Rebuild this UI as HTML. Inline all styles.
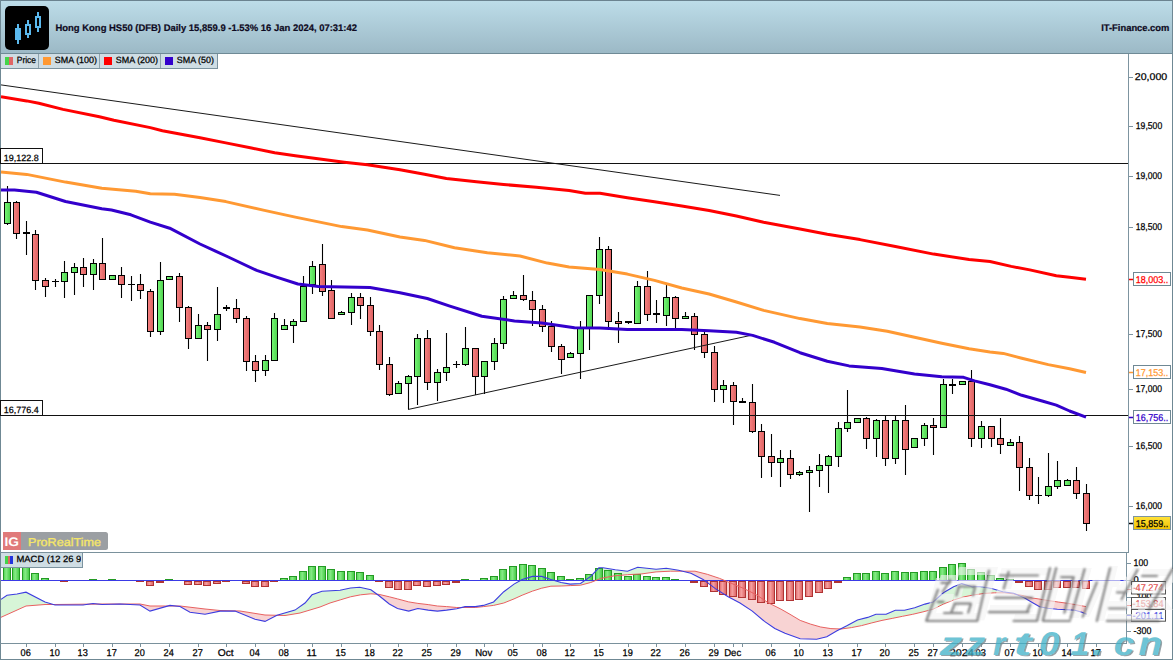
<!DOCTYPE html>
<html><head><meta charset="utf-8"><title>HK50 chart</title>
<style>
html,body{margin:0;padding:0;background:#fff;width:1173px;height:660px;overflow:hidden}
svg{display:block;font-family:"Liberation Sans", sans-serif;text-rendering:geometricPrecision}
.tk{stroke:#000;stroke-width:0.25px}
</style></head><body>
<svg width="1173" height="660" viewBox="0 0 1173 660">
<defs>
<linearGradient id="hdr" x1="0" y1="0" x2="0" y2="1">
<stop offset="0" stop-color="#bddde9"/><stop offset="1" stop-color="#9cb9c6"/></linearGradient>
<linearGradient id="gG" x1="0" y1="0" x2="1" y2="0">
<stop offset="0" stop-color="#78f878"/><stop offset="1" stop-color="#4ed24e"/></linearGradient>
<linearGradient id="gR" x1="0" y1="0" x2="1" y2="0">
<stop offset="0" stop-color="#f78282"/><stop offset="1" stop-color="#dc6060"/></linearGradient>
<linearGradient id="hG" x1="0" y1="0" x2="1" y2="0">
<stop offset="0" stop-color="#4fd64f"/><stop offset="0.4" stop-color="#86ea86"/><stop offset="1" stop-color="#3fc83f"/></linearGradient>
<linearGradient id="hR" x1="0" y1="0" x2="1" y2="0">
<stop offset="0" stop-color="#e06868"/><stop offset="0.4" stop-color="#f5a0a0"/><stop offset="1" stop-color="#dc6060"/></linearGradient>
<linearGradient id="yel" x1="0" y1="0" x2="0" y2="1"><stop offset="0" stop-color="#ffe23a"/><stop offset="1" stop-color="#f2c200"/></linearGradient>
<filter id="wblur" x="-10%" y="-10%" width="120%" height="120%"><feGaussianBlur stdDeviation="0.8"/></filter>
<mask id="wmask" maskUnits="userSpaceOnUse" x="0" y="0" width="1173" height="660"><rect x="0" y="0" width="1173" height="660" fill="#fff"/><g id="wmpolys"></g><polygon points="936.0,578.0 945.0,578.0 934.2,621.0 925.2,621.0" fill="#000"/><polygon points="940.8,575.0 958.8,575.0 956.8,583.0 938.8,583.0" fill="#000"/><polygon points="940.0,594.0 954.0,594.0 952.1,601.6 938.1,601.6" fill="#000"/><polygon points="958.8,567.0 997.8,567.0 995.8,575.0 956.8,575.0" fill="#000"/><polygon points="989.8,567.0 997.8,567.0 984.8,619.0 976.8,619.0" fill="#000"/><polygon points="958.5,580.0 986.5,580.0 984.8,587.0 956.8,587.0" fill="#000"/><polygon points="956.8,587.0 963.8,587.0 957.2,613.0 950.2,613.0" fill="#000"/><polygon points="956.2,597.0 982.2,597.0 980.5,604.0 954.5,604.0" fill="#000"/><polygon points="973.8,587.0 980.8,587.0 974.2,613.0 967.2,613.0" fill="#000"/><polygon points="927.2,613.0 986.2,613.0 984.4,620.6 925.4,620.6" fill="#000"/><polygon points="1001.5,568.0 1057.5,568.0 1055.6,575.5 999.6,575.5" fill="#000"/><polygon points="1007.8,575.0 1014.8,575.0 1011.2,589.0 1004.2,589.0" fill="#000"/><polygon points="997.0,590.0 1052.0,590.0 1050.0,597.8 995.0,597.8" fill="#000"/><polygon points="990.2,605.0 1034.2,605.0 1032.5,612.2 988.5,612.2" fill="#000"/><polygon points="1050.1,568.0 1057.5,568.0 1044.5,620.0 1037.1,620.0" fill="#000"/><polygon points="1015.0,614.0 1046.0,614.0 1044.2,621.0 1013.2,621.0" fill="#000"/><polygon points="1056.0,568.0 1063.5,568.0 1050.2,621.0 1042.8,621.0" fill="#000"/><polygon points="1056.0,568.0 1091.5,568.0 1089.8,575.0 1054.2,575.0" fill="#000"/><polygon points="1073.8,575.0 1079.8,575.0 1070.2,613.0 1064.2,613.0" fill="#000"/><polygon points="1084.0,568.0 1091.5,568.0 1079.0,618.0 1071.5,618.0" fill="#000"/><polygon points="1092.5,580.0 1120.5,580.0 1118.8,587.0 1090.8,587.0" fill="#000"/><polygon points="1110.5,566.0 1118.0,566.0 1104.2,621.0 1096.8,621.0" fill="#000"/><polygon points="1095.8,587.0 1102.8,587.0 1089.2,617.0 1082.2,617.0" fill="#000"/><polygon points="1133.5,568.0 1141.5,568.0 1124.0,590.0 1116.0,590.0" fill="#000"/><polygon points="1117.2,585.0 1135.2,585.0 1133.4,592.5 1115.4,592.5" fill="#000"/><polygon points="1107.2,601.0 1131.2,601.0 1129.4,608.5 1105.4,608.5" fill="#000"/><polygon points="1143.2,569.0 1185.2,569.0 1183.5,576.0 1141.5,576.0" fill="#000"/><polygon points="1171.5,576.0 1179.5,576.0 1150.5,604.0 1142.5,604.0" fill="#000"/><polygon points="1150.0,590.0 1158.0,590.0 1173.0,610.0 1165.0,610.0" fill="#000"/><polygon points="1108.0,614.0 1162.0,614.0 1160.2,621.0 1106.2,621.0" fill="#000"/><polygon points="1141.0,598.0 1148.0,598.0 1142.2,621.0 1135.2,621.0" fill="#000"/><polygon points="1133.0,602.0 1163.0,602.0 1161.2,609.0 1131.2,609.0" fill="#000"/></mask>
<clipPath id="mainclip"><rect x="1" y="69" width="1127" height="483"/></clipPath>
<clipPath id="macdclip"><rect x="1" y="553" width="1125" height="90"/></clipPath>

<clipPath id="abv"><polygon points="1.0,553.0 1.0,617.3 26.0,606.0 45.0,604.5 55.0,604.5 100.0,604.0 140.0,604.0 150.0,606.0 180.0,606.0 205.0,609.0 220.0,610.5 240.0,611.0 265.0,615.0 285.0,615.5 300.0,613.0 320.0,607.0 330.0,603.0 340.2,599.9 350.5,596.8 360.7,594.8 370.9,593.8 379.1,594.4 389.3,596.8 397.5,598.9 408.7,601.9 417.9,603.4 428.2,604.6 437.4,606.0 446.6,606.6 456.8,607.5 465.0,607.5 475.3,607.5 483.4,606.6 493.6,605.4 503.8,603.0 514.0,598.9 522.2,595.2 532.5,591.1 541.7,588.2 550.9,586.2 561.1,586.0 570.2,585.6 580.5,585.2 590.7,582.5 600.9,578.4 613.2,576.0 627.5,574.7 641.8,573.9 656.1,571.9 670.5,571.2 682.7,571.2 695.0,571.2 707.3,574.3 719.6,578.4 731.8,583.5 744.1,588.6 756.4,594.8 768.7,603.0 780.9,609.1 790.0,614.3 800.2,620.4 810.5,624.1 820.7,627.0 830.9,628.6 841.1,629.0 851.4,627.6 861.6,625.6 871.8,622.9 882.0,620.4 892.2,618.4 902.5,616.3 912.7,614.3 922.9,611.9 933.1,609.2 943.4,604.1 953.6,600.0 963.8,596.9 974.0,594.9 984.3,593.4 994.5,592.8 1004.7,592.8 1013.6,593.9 1024.6,595.9 1032.7,598.0 1040.9,599.3 1049.1,600.7 1058.7,602.1 1068.2,603.4 1076.4,604.8 1086.0,606.6 1127.0,606.6 1127.0,553.0"/></clipPath>
<clipPath id="blw"><polygon points="1.0,643.0 1.0,617.3 26.0,606.0 45.0,604.5 55.0,604.5 100.0,604.0 140.0,604.0 150.0,606.0 180.0,606.0 205.0,609.0 220.0,610.5 240.0,611.0 265.0,615.0 285.0,615.5 300.0,613.0 320.0,607.0 330.0,603.0 340.2,599.9 350.5,596.8 360.7,594.8 370.9,593.8 379.1,594.4 389.3,596.8 397.5,598.9 408.7,601.9 417.9,603.4 428.2,604.6 437.4,606.0 446.6,606.6 456.8,607.5 465.0,607.5 475.3,607.5 483.4,606.6 493.6,605.4 503.8,603.0 514.0,598.9 522.2,595.2 532.5,591.1 541.7,588.2 550.9,586.2 561.1,586.0 570.2,585.6 580.5,585.2 590.7,582.5 600.9,578.4 613.2,576.0 627.5,574.7 641.8,573.9 656.1,571.9 670.5,571.2 682.7,571.2 695.0,571.2 707.3,574.3 719.6,578.4 731.8,583.5 744.1,588.6 756.4,594.8 768.7,603.0 780.9,609.1 790.0,614.3 800.2,620.4 810.5,624.1 820.7,627.0 830.9,628.6 841.1,629.0 851.4,627.6 861.6,625.6 871.8,622.9 882.0,620.4 892.2,618.4 902.5,616.3 912.7,614.3 922.9,611.9 933.1,609.2 943.4,604.1 953.6,600.0 963.8,596.9 974.0,594.9 984.3,593.4 994.5,592.8 1004.7,592.8 1013.6,593.9 1024.6,595.9 1032.7,598.0 1040.9,599.3 1049.1,600.7 1058.7,602.1 1068.2,603.4 1076.4,604.8 1086.0,606.6 1127.0,606.6 1127.0,643.0"/></clipPath>
</defs>
<rect x="0" y="0" width="1173" height="660" fill="#ffffff"/>
<rect x="0" y="0" width="1173" height="53" fill="url(#hdr)"/>
<rect x="0" y="0" width="1173" height="1" fill="#6b8390"/>
<rect x="0" y="53" width="1173" height="1" fill="#6f8a96"/>
<rect x="5" y="6" width="44" height="44" rx="5" ry="5" fill="#000"/>
<rect x="17" y="24" width="2" height="20" fill="#5bb9ee"/>
<rect x="15" y="28" width="6" height="12" fill="#5bb9ee"/>
<rect x="27" y="20" width="2" height="5" fill="#5bb9ee"/><rect x="27" y="34" width="2" height="4" fill="#5bb9ee"/>
<rect x="26" y="25" width="4" height="9" fill="none" stroke="#5bb9ee" stroke-width="2"/>
<rect x="37" y="12" width="2" height="5" fill="#5bb9ee"/><rect x="37" y="27" width="2" height="5" fill="#5bb9ee"/>
<rect x="36" y="17" width="4" height="10" fill="none" stroke="#5bb9ee" stroke-width="2"/>
<text x="55.5" y="31" font-size="9.5" font-weight="bold" fill="#0e0a22" stroke="#0e0a22" stroke-width="0.2" textLength="301.5" lengthAdjust="spacingAndGlyphs">Hong Kong HS50 (DFB) Daily 15,859.9 -1.53% 16 Jan 2024, 07:31:42</text>
<text x="1101.2" y="31" font-size="9.5" font-weight="bold" fill="#0e0a22" stroke="#0e0a22" stroke-width="0.2" textLength="68.2" lengthAdjust="spacingAndGlyphs">IT-Finance.com</text>
<rect x="1" y="54" width="217" height="14" fill="#cfdde4"/>
<rect x="1" y="68" width="217" height="1" fill="#7c939f"/>
<rect x="217" y="54" width="1" height="15" fill="#7c939f"/>
<rect x="38" y="54" width="1" height="14" fill="#8ea3ad"/>
<rect x="99" y="54" width="1" height="14" fill="#8ea3ad"/>
<rect x="160" y="54" width="1" height="14" fill="#8ea3ad"/>
<rect x="5" y="57" width="4" height="8" fill="#44d44a"/><rect x="9" y="57" width="4" height="8" fill="#e06666"/>
<text x="16.8" y="63.2" font-size="9" class="tk" fill="#000" textLength="19.2" lengthAdjust="spacingAndGlyphs">Price</text>
<rect x="43" y="57" width="8" height="8" fill="#ff9933"/>
<text x="54.8" y="63.2" font-size="9" class="tk" fill="#000" textLength="42.2" lengthAdjust="spacingAndGlyphs">SMA (100)</text>
<rect x="104" y="57" width="8" height="8" fill="#ff0000"/>
<text x="115.8" y="63.2" font-size="9" class="tk" fill="#000" textLength="42.2" lengthAdjust="spacingAndGlyphs">SMA (200)</text>
<rect x="165" y="57" width="8" height="8" fill="#3300cc"/>
<text x="176.8" y="63.2" font-size="9" class="tk" fill="#000" textLength="37.2" lengthAdjust="spacingAndGlyphs">SMA (50)</text>
<rect x="0" y="0" width="1" height="660" fill="#6f8894"/>
<rect x="1172" y="0" width="1" height="660" fill="#6f8894"/>
<rect x="0" y="659" width="1173" height="1" fill="#6f8894"/>
<rect x="1128" y="54" width="1" height="499" fill="#7d94a0"/>
<rect x="0" y="552" width="1129" height="1" fill="#7a919c"/>
<rect x="1126" y="553" width="1" height="91" fill="#7d94a0"/>
<rect x="0" y="643" width="1127" height="1" fill="#7a919c"/>
<g clip-path="url(#mainclip)">
<line x1="7.5" y1="186" x2="7.5" y2="225" stroke="#000" stroke-width="1.1"/>
<rect x="4.5" y="202.5" width="6" height="21" fill="url(#gG)" stroke="#000" stroke-width="1"/>
<line x1="16.5" y1="201" x2="16.5" y2="239" stroke="#000" stroke-width="1.1"/>
<rect x="13.5" y="202.5" width="6" height="31" fill="url(#gR)" stroke="#000" stroke-width="1"/>
<line x1="26.5" y1="221" x2="26.5" y2="255" stroke="#000" stroke-width="1.1"/>
<rect x="23" y="232" width="7" height="2" fill="#000"/>
<line x1="35.5" y1="230" x2="35.5" y2="290" stroke="#000" stroke-width="1.1"/>
<rect x="32.5" y="234.5" width="6" height="46" fill="url(#gR)" stroke="#000" stroke-width="1"/>
<line x1="45.5" y1="278" x2="45.5" y2="297" stroke="#000" stroke-width="1.1"/>
<rect x="42.5" y="280.5" width="6" height="6" fill="url(#gR)" stroke="#000" stroke-width="1"/>
<line x1="55.5" y1="279" x2="55.5" y2="287" stroke="#000" stroke-width="1.1"/>
<rect x="52" y="281" width="7" height="1" fill="#000"/>
<line x1="64.5" y1="261" x2="64.5" y2="298" stroke="#000" stroke-width="1.1"/>
<rect x="61.5" y="272.5" width="6" height="9" fill="url(#gG)" stroke="#000" stroke-width="1"/>
<line x1="74.5" y1="263" x2="74.5" y2="295" stroke="#000" stroke-width="1.1"/>
<rect x="71.5" y="267.5" width="6" height="5" fill="url(#gG)" stroke="#000" stroke-width="1"/>
<line x1="83.5" y1="258" x2="83.5" y2="287" stroke="#000" stroke-width="1.1"/>
<rect x="80.5" y="267.5" width="6" height="7" fill="url(#gR)" stroke="#000" stroke-width="1"/>
<line x1="93.5" y1="259" x2="93.5" y2="290" stroke="#000" stroke-width="1.1"/>
<rect x="90.5" y="263.5" width="6" height="11" fill="url(#gG)" stroke="#000" stroke-width="1"/>
<line x1="102.5" y1="238" x2="102.5" y2="279" stroke="#000" stroke-width="1.1"/>
<rect x="99.5" y="263.5" width="6" height="16" fill="url(#gR)" stroke="#000" stroke-width="1"/>
<line x1="112.5" y1="275" x2="112.5" y2="279" stroke="#000" stroke-width="1.1"/>
<rect x="109.5" y="275.5" width="6" height="4" fill="url(#gG)" stroke="#000" stroke-width="1"/>
<line x1="121.5" y1="267" x2="121.5" y2="298" stroke="#000" stroke-width="1.1"/>
<rect x="118.5" y="275.5" width="6" height="9" fill="url(#gR)" stroke="#000" stroke-width="1"/>
<line x1="131.5" y1="276" x2="131.5" y2="301" stroke="#000" stroke-width="1.1"/>
<rect x="128" y="284" width="7" height="1" fill="#000"/>
<line x1="140.5" y1="274" x2="140.5" y2="299" stroke="#000" stroke-width="1.1"/>
<rect x="137.5" y="284.5" width="6" height="6" fill="url(#gR)" stroke="#000" stroke-width="1"/>
<line x1="150.5" y1="289" x2="150.5" y2="337" stroke="#000" stroke-width="1.1"/>
<rect x="147.5" y="291.5" width="6" height="40" fill="url(#gR)" stroke="#000" stroke-width="1"/>
<line x1="160.5" y1="262" x2="160.5" y2="335" stroke="#000" stroke-width="1.1"/>
<rect x="157.5" y="280.5" width="6" height="51" fill="url(#gG)" stroke="#000" stroke-width="1"/>
<line x1="169.5" y1="276" x2="169.5" y2="279" stroke="#000" stroke-width="1.1"/>
<rect x="166.5" y="276.5" width="6" height="3" fill="url(#gG)" stroke="#000" stroke-width="1"/>
<line x1="179.5" y1="273" x2="179.5" y2="322" stroke="#000" stroke-width="1.1"/>
<rect x="176.5" y="276.5" width="6" height="31" fill="url(#gR)" stroke="#000" stroke-width="1"/>
<line x1="188.5" y1="306" x2="188.5" y2="349" stroke="#000" stroke-width="1.1"/>
<rect x="185.5" y="307.5" width="6" height="31" fill="url(#gR)" stroke="#000" stroke-width="1"/>
<line x1="198.5" y1="314" x2="198.5" y2="339" stroke="#000" stroke-width="1.1"/>
<rect x="195.5" y="325.5" width="6" height="13" fill="url(#gG)" stroke="#000" stroke-width="1"/>
<line x1="207.5" y1="322" x2="207.5" y2="361" stroke="#000" stroke-width="1.1"/>
<rect x="204.5" y="325.5" width="6" height="4" fill="url(#gR)" stroke="#000" stroke-width="1"/>
<line x1="217.5" y1="287" x2="217.5" y2="341" stroke="#000" stroke-width="1.1"/>
<rect x="214.5" y="314.5" width="6" height="15" fill="url(#gG)" stroke="#000" stroke-width="1"/>
<line x1="226.5" y1="305" x2="226.5" y2="311" stroke="#000" stroke-width="1.1"/>
<rect x="223" y="307" width="7" height="2" fill="#000"/>
<line x1="236.5" y1="299" x2="236.5" y2="323" stroke="#000" stroke-width="1.1"/>
<rect x="233.5" y="308.5" width="6" height="10" fill="url(#gR)" stroke="#000" stroke-width="1"/>
<line x1="246.5" y1="316" x2="246.5" y2="371" stroke="#000" stroke-width="1.1"/>
<rect x="243.5" y="318.5" width="6" height="43" fill="url(#gR)" stroke="#000" stroke-width="1"/>
<line x1="255.5" y1="355" x2="255.5" y2="382" stroke="#000" stroke-width="1.1"/>
<rect x="252.5" y="361.5" width="6" height="9" fill="url(#gR)" stroke="#000" stroke-width="1"/>
<line x1="265.5" y1="355" x2="265.5" y2="376" stroke="#000" stroke-width="1.1"/>
<rect x="262.5" y="360.5" width="6" height="10" fill="url(#gG)" stroke="#000" stroke-width="1"/>
<line x1="274.5" y1="313" x2="274.5" y2="361" stroke="#000" stroke-width="1.1"/>
<rect x="271.5" y="318.5" width="6" height="42" fill="url(#gG)" stroke="#000" stroke-width="1"/>
<line x1="284.5" y1="319" x2="284.5" y2="329" stroke="#000" stroke-width="1.1"/>
<rect x="281.5" y="325.5" width="6" height="4" fill="url(#gG)" stroke="#000" stroke-width="1"/>
<line x1="293.5" y1="319" x2="293.5" y2="343" stroke="#000" stroke-width="1.1"/>
<rect x="290.5" y="321.5" width="6" height="4" fill="url(#gG)" stroke="#000" stroke-width="1"/>
<line x1="303.5" y1="276" x2="303.5" y2="321" stroke="#000" stroke-width="1.1"/>
<rect x="300.5" y="286.5" width="6" height="35" fill="url(#gG)" stroke="#000" stroke-width="1"/>
<line x1="312.5" y1="261" x2="312.5" y2="294" stroke="#000" stroke-width="1.1"/>
<rect x="309.5" y="266.5" width="6" height="18" fill="url(#gG)" stroke="#000" stroke-width="1"/>
<line x1="322.5" y1="244" x2="322.5" y2="296" stroke="#000" stroke-width="1.1"/>
<rect x="319.5" y="264.5" width="6" height="27" fill="url(#gR)" stroke="#000" stroke-width="1"/>
<line x1="331.5" y1="280" x2="331.5" y2="318" stroke="#000" stroke-width="1.1"/>
<rect x="328.5" y="290.5" width="6" height="28" fill="url(#gR)" stroke="#000" stroke-width="1"/>
<line x1="341.5" y1="311" x2="341.5" y2="314" stroke="#000" stroke-width="1.1"/>
<rect x="338.5" y="312.5" width="6" height="2" fill="url(#gG)" stroke="#000" stroke-width="1"/>
<line x1="351.5" y1="293" x2="351.5" y2="325" stroke="#000" stroke-width="1.1"/>
<rect x="348.5" y="297.5" width="6" height="15" fill="url(#gG)" stroke="#000" stroke-width="1"/>
<line x1="360.5" y1="293" x2="360.5" y2="319" stroke="#000" stroke-width="1.1"/>
<rect x="357.5" y="297.5" width="6" height="8" fill="url(#gR)" stroke="#000" stroke-width="1"/>
<line x1="370.5" y1="297" x2="370.5" y2="336" stroke="#000" stroke-width="1.1"/>
<rect x="367.5" y="305.5" width="6" height="26" fill="url(#gR)" stroke="#000" stroke-width="1"/>
<line x1="379.5" y1="325" x2="379.5" y2="370" stroke="#000" stroke-width="1.1"/>
<rect x="376.5" y="331.5" width="6" height="33" fill="url(#gR)" stroke="#000" stroke-width="1"/>
<line x1="389.5" y1="357" x2="389.5" y2="396" stroke="#000" stroke-width="1.1"/>
<rect x="386.5" y="364.5" width="6" height="30" fill="url(#gR)" stroke="#000" stroke-width="1"/>
<line x1="398.5" y1="381" x2="398.5" y2="393" stroke="#000" stroke-width="1.1"/>
<rect x="395.5" y="383.5" width="6" height="10" fill="url(#gG)" stroke="#000" stroke-width="1"/>
<line x1="408.5" y1="375" x2="408.5" y2="409" stroke="#000" stroke-width="1.1"/>
<rect x="405.5" y="376.5" width="6" height="7" fill="url(#gG)" stroke="#000" stroke-width="1"/>
<line x1="417.5" y1="334" x2="417.5" y2="405" stroke="#000" stroke-width="1.1"/>
<rect x="414.5" y="338.5" width="6" height="38" fill="url(#gG)" stroke="#000" stroke-width="1"/>
<line x1="427.5" y1="330" x2="427.5" y2="390" stroke="#000" stroke-width="1.1"/>
<rect x="424.5" y="338.5" width="6" height="44" fill="url(#gR)" stroke="#000" stroke-width="1"/>
<line x1="437.5" y1="369" x2="437.5" y2="401" stroke="#000" stroke-width="1.1"/>
<rect x="434.5" y="372.5" width="6" height="10" fill="url(#gG)" stroke="#000" stroke-width="1"/>
<line x1="446.5" y1="333" x2="446.5" y2="381" stroke="#000" stroke-width="1.1"/>
<rect x="443.5" y="367.5" width="6" height="5" fill="url(#gG)" stroke="#000" stroke-width="1"/>
<line x1="456.5" y1="361" x2="456.5" y2="368" stroke="#000" stroke-width="1.1"/>
<rect x="453" y="364" width="7" height="1" fill="#000"/>
<line x1="465.5" y1="327" x2="465.5" y2="366" stroke="#000" stroke-width="1.1"/>
<rect x="462.5" y="348.5" width="6" height="16" fill="url(#gG)" stroke="#000" stroke-width="1"/>
<line x1="475.5" y1="348" x2="475.5" y2="395" stroke="#000" stroke-width="1.1"/>
<rect x="472.5" y="348.5" width="6" height="28" fill="url(#gR)" stroke="#000" stroke-width="1"/>
<line x1="484.5" y1="361" x2="484.5" y2="394" stroke="#000" stroke-width="1.1"/>
<rect x="481.5" y="361.5" width="6" height="15" fill="url(#gG)" stroke="#000" stroke-width="1"/>
<line x1="494.5" y1="338" x2="494.5" y2="370" stroke="#000" stroke-width="1.1"/>
<rect x="491.5" y="343.5" width="6" height="18" fill="url(#gG)" stroke="#000" stroke-width="1"/>
<line x1="503.5" y1="296" x2="503.5" y2="349" stroke="#000" stroke-width="1.1"/>
<rect x="500.5" y="299.5" width="6" height="44" fill="url(#gG)" stroke="#000" stroke-width="1"/>
<line x1="513.5" y1="291" x2="513.5" y2="298" stroke="#000" stroke-width="1.1"/>
<rect x="510.5" y="295.5" width="6" height="3" fill="url(#gG)" stroke="#000" stroke-width="1"/>
<line x1="523.5" y1="275" x2="523.5" y2="301" stroke="#000" stroke-width="1.1"/>
<rect x="520.5" y="295.5" width="6" height="4" fill="url(#gR)" stroke="#000" stroke-width="1"/>
<line x1="532.5" y1="291" x2="532.5" y2="326" stroke="#000" stroke-width="1.1"/>
<rect x="529.5" y="300.5" width="6" height="9" fill="url(#gR)" stroke="#000" stroke-width="1"/>
<line x1="542.5" y1="305" x2="542.5" y2="332" stroke="#000" stroke-width="1.1"/>
<rect x="539.5" y="309.5" width="6" height="17" fill="url(#gR)" stroke="#000" stroke-width="1"/>
<line x1="551.5" y1="321" x2="551.5" y2="352" stroke="#000" stroke-width="1.1"/>
<rect x="548.5" y="326.5" width="6" height="20" fill="url(#gR)" stroke="#000" stroke-width="1"/>
<line x1="561.5" y1="344" x2="561.5" y2="374" stroke="#000" stroke-width="1.1"/>
<rect x="558.5" y="346.5" width="6" height="13" fill="url(#gR)" stroke="#000" stroke-width="1"/>
<line x1="570.5" y1="352" x2="570.5" y2="358" stroke="#000" stroke-width="1.1"/>
<rect x="567.5" y="353.5" width="6" height="4" fill="url(#gG)" stroke="#000" stroke-width="1"/>
<line x1="580.5" y1="321" x2="580.5" y2="379" stroke="#000" stroke-width="1.1"/>
<rect x="577.5" y="328.5" width="6" height="25" fill="url(#gG)" stroke="#000" stroke-width="1"/>
<line x1="589.5" y1="295" x2="589.5" y2="350" stroke="#000" stroke-width="1.1"/>
<rect x="586.5" y="295.5" width="6" height="32" fill="url(#gG)" stroke="#000" stroke-width="1"/>
<line x1="599.5" y1="237" x2="599.5" y2="304" stroke="#000" stroke-width="1.1"/>
<rect x="596.5" y="249.5" width="6" height="46" fill="url(#gG)" stroke="#000" stroke-width="1"/>
<line x1="608.5" y1="246" x2="608.5" y2="330" stroke="#000" stroke-width="1.1"/>
<rect x="605.5" y="249.5" width="6" height="72" fill="url(#gR)" stroke="#000" stroke-width="1"/>
<line x1="618.5" y1="312" x2="618.5" y2="343" stroke="#000" stroke-width="1.1"/>
<rect x="615.5" y="321.5" width="6" height="2" fill="url(#gR)" stroke="#000" stroke-width="1"/>
<line x1="628.5" y1="321" x2="628.5" y2="324" stroke="#000" stroke-width="1.1"/>
<rect x="625" y="321" width="7" height="2" fill="#000"/>
<line x1="637.5" y1="281" x2="637.5" y2="323" stroke="#000" stroke-width="1.1"/>
<rect x="634.5" y="286.5" width="6" height="37" fill="url(#gG)" stroke="#000" stroke-width="1"/>
<line x1="647.5" y1="271" x2="647.5" y2="321" stroke="#000" stroke-width="1.1"/>
<rect x="644.5" y="286.5" width="6" height="28" fill="url(#gR)" stroke="#000" stroke-width="1"/>
<line x1="656.5" y1="300" x2="656.5" y2="323" stroke="#000" stroke-width="1.1"/>
<rect x="653" y="313" width="7" height="2" fill="#000"/>
<line x1="666.5" y1="285" x2="666.5" y2="326" stroke="#000" stroke-width="1.1"/>
<rect x="663.5" y="297.5" width="6" height="18" fill="url(#gG)" stroke="#000" stroke-width="1"/>
<line x1="675.5" y1="296" x2="675.5" y2="331" stroke="#000" stroke-width="1.1"/>
<rect x="672.5" y="297.5" width="6" height="21" fill="url(#gR)" stroke="#000" stroke-width="1"/>
<line x1="685.5" y1="312" x2="685.5" y2="318" stroke="#000" stroke-width="1.1"/>
<rect x="682.5" y="316.5" width="6" height="2" fill="url(#gG)" stroke="#000" stroke-width="1"/>
<line x1="694.5" y1="313" x2="694.5" y2="350" stroke="#000" stroke-width="1.1"/>
<rect x="691.5" y="316.5" width="6" height="18" fill="url(#gR)" stroke="#000" stroke-width="1"/>
<line x1="704.5" y1="332" x2="704.5" y2="358" stroke="#000" stroke-width="1.1"/>
<rect x="701.5" y="334.5" width="6" height="18" fill="url(#gR)" stroke="#000" stroke-width="1"/>
<line x1="714.5" y1="346" x2="714.5" y2="402" stroke="#000" stroke-width="1.1"/>
<rect x="711.5" y="352.5" width="6" height="37" fill="url(#gR)" stroke="#000" stroke-width="1"/>
<line x1="723.5" y1="380" x2="723.5" y2="403" stroke="#000" stroke-width="1.1"/>
<rect x="720.5" y="385.5" width="6" height="4" fill="url(#gG)" stroke="#000" stroke-width="1"/>
<line x1="733.5" y1="382" x2="733.5" y2="425" stroke="#000" stroke-width="1.1"/>
<rect x="730.5" y="385.5" width="6" height="16" fill="url(#gR)" stroke="#000" stroke-width="1"/>
<line x1="742.5" y1="398" x2="742.5" y2="402" stroke="#000" stroke-width="1.1"/>
<rect x="739" y="401" width="7" height="2" fill="#000"/>
<line x1="752.5" y1="384" x2="752.5" y2="433" stroke="#000" stroke-width="1.1"/>
<rect x="749.5" y="402.5" width="6" height="29" fill="url(#gR)" stroke="#000" stroke-width="1"/>
<line x1="761.5" y1="424" x2="761.5" y2="478" stroke="#000" stroke-width="1.1"/>
<rect x="758.5" y="431.5" width="6" height="25" fill="url(#gR)" stroke="#000" stroke-width="1"/>
<line x1="771.5" y1="434" x2="771.5" y2="477" stroke="#000" stroke-width="1.1"/>
<rect x="768.5" y="456.5" width="6" height="6" fill="url(#gR)" stroke="#000" stroke-width="1"/>
<line x1="780.5" y1="450" x2="780.5" y2="487" stroke="#000" stroke-width="1.1"/>
<rect x="777.5" y="458.5" width="6" height="4" fill="url(#gG)" stroke="#000" stroke-width="1"/>
<line x1="790.5" y1="450" x2="790.5" y2="479" stroke="#000" stroke-width="1.1"/>
<rect x="787.5" y="458.5" width="6" height="16" fill="url(#gR)" stroke="#000" stroke-width="1"/>
<line x1="799.5" y1="471" x2="799.5" y2="476" stroke="#000" stroke-width="1.1"/>
<rect x="796.5" y="472.5" width="6" height="2" fill="url(#gG)" stroke="#000" stroke-width="1"/>
<line x1="809.5" y1="466" x2="809.5" y2="512" stroke="#000" stroke-width="1.1"/>
<rect x="806.5" y="470.5" width="6" height="2" fill="url(#gG)" stroke="#000" stroke-width="1"/>
<line x1="819.5" y1="454" x2="819.5" y2="487" stroke="#000" stroke-width="1.1"/>
<rect x="816.5" y="465.5" width="6" height="5" fill="url(#gG)" stroke="#000" stroke-width="1"/>
<line x1="828.5" y1="455" x2="828.5" y2="493" stroke="#000" stroke-width="1.1"/>
<rect x="825.5" y="456.5" width="6" height="9" fill="url(#gG)" stroke="#000" stroke-width="1"/>
<line x1="838.5" y1="422" x2="838.5" y2="467" stroke="#000" stroke-width="1.1"/>
<rect x="835.5" y="428.5" width="6" height="28" fill="url(#gG)" stroke="#000" stroke-width="1"/>
<line x1="847.5" y1="390" x2="847.5" y2="432" stroke="#000" stroke-width="1.1"/>
<rect x="844.5" y="422.5" width="6" height="6" fill="url(#gG)" stroke="#000" stroke-width="1"/>
<line x1="857.5" y1="418" x2="857.5" y2="423" stroke="#000" stroke-width="1.1"/>
<rect x="854.5" y="418.5" width="6" height="4" fill="url(#gG)" stroke="#000" stroke-width="1"/>
<line x1="866.5" y1="417" x2="866.5" y2="449" stroke="#000" stroke-width="1.1"/>
<rect x="863.5" y="418.5" width="6" height="20" fill="url(#gR)" stroke="#000" stroke-width="1"/>
<line x1="876.5" y1="419" x2="876.5" y2="457" stroke="#000" stroke-width="1.1"/>
<rect x="873.5" y="420.5" width="6" height="18" fill="url(#gG)" stroke="#000" stroke-width="1"/>
<line x1="885.5" y1="415" x2="885.5" y2="466" stroke="#000" stroke-width="1.1"/>
<rect x="882.5" y="420.5" width="6" height="38" fill="url(#gR)" stroke="#000" stroke-width="1"/>
<line x1="895.5" y1="415" x2="895.5" y2="464" stroke="#000" stroke-width="1.1"/>
<rect x="892.5" y="420.5" width="6" height="38" fill="url(#gG)" stroke="#000" stroke-width="1"/>
<line x1="905.5" y1="405" x2="905.5" y2="475" stroke="#000" stroke-width="1.1"/>
<rect x="902.5" y="420.5" width="6" height="29" fill="url(#gR)" stroke="#000" stroke-width="1"/>
<line x1="914.5" y1="438" x2="914.5" y2="448" stroke="#000" stroke-width="1.1"/>
<rect x="911.5" y="438.5" width="6" height="9" fill="url(#gG)" stroke="#000" stroke-width="1"/>
<line x1="924.5" y1="423" x2="924.5" y2="446" stroke="#000" stroke-width="1.1"/>
<rect x="921.5" y="425.5" width="6" height="13" fill="url(#gG)" stroke="#000" stroke-width="1"/>
<line x1="933.5" y1="418" x2="933.5" y2="455" stroke="#000" stroke-width="1.1"/>
<rect x="930.5" y="425.5" width="6" height="2" fill="url(#gR)" stroke="#000" stroke-width="1"/>
<line x1="943.5" y1="379" x2="943.5" y2="428" stroke="#000" stroke-width="1.1"/>
<rect x="940.5" y="384.5" width="6" height="43" fill="url(#gG)" stroke="#000" stroke-width="1"/>
<line x1="952.5" y1="379" x2="952.5" y2="394" stroke="#000" stroke-width="1.1"/>
<rect x="949" y="384" width="7" height="2" fill="#000"/>
<line x1="962.5" y1="381" x2="962.5" y2="384" stroke="#000" stroke-width="1.1"/>
<rect x="959.5" y="381.5" width="6" height="3" fill="url(#gG)" stroke="#000" stroke-width="1"/>
<line x1="971.5" y1="370" x2="971.5" y2="447" stroke="#000" stroke-width="1.1"/>
<rect x="968.5" y="381.5" width="6" height="57" fill="url(#gR)" stroke="#000" stroke-width="1"/>
<line x1="981.5" y1="421" x2="981.5" y2="448" stroke="#000" stroke-width="1.1"/>
<rect x="978.5" y="426.5" width="6" height="12" fill="url(#gG)" stroke="#000" stroke-width="1"/>
<line x1="991.5" y1="426" x2="991.5" y2="447" stroke="#000" stroke-width="1.1"/>
<rect x="988.5" y="426.5" width="6" height="12" fill="url(#gR)" stroke="#000" stroke-width="1"/>
<line x1="1000.5" y1="418" x2="1000.5" y2="454" stroke="#000" stroke-width="1.1"/>
<rect x="997.5" y="438.5" width="6" height="6" fill="url(#gR)" stroke="#000" stroke-width="1"/>
<line x1="1010.5" y1="439" x2="1010.5" y2="445" stroke="#000" stroke-width="1.1"/>
<rect x="1007.5" y="442.5" width="6" height="3" fill="url(#gG)" stroke="#000" stroke-width="1"/>
<line x1="1019.5" y1="436" x2="1019.5" y2="491" stroke="#000" stroke-width="1.1"/>
<rect x="1016.5" y="442.5" width="6" height="25" fill="url(#gR)" stroke="#000" stroke-width="1"/>
<line x1="1029.5" y1="458" x2="1029.5" y2="500" stroke="#000" stroke-width="1.1"/>
<rect x="1026.5" y="467.5" width="6" height="28" fill="url(#gR)" stroke="#000" stroke-width="1"/>
<line x1="1038.5" y1="477" x2="1038.5" y2="504" stroke="#000" stroke-width="1.1"/>
<rect x="1035" y="495" width="7" height="1" fill="#000"/>
<line x1="1048.5" y1="453" x2="1048.5" y2="497" stroke="#000" stroke-width="1.1"/>
<rect x="1045.5" y="486.5" width="6" height="9" fill="url(#gG)" stroke="#000" stroke-width="1"/>
<line x1="1057.5" y1="461" x2="1057.5" y2="489" stroke="#000" stroke-width="1.1"/>
<rect x="1054.5" y="480.5" width="6" height="6" fill="url(#gG)" stroke="#000" stroke-width="1"/>
<line x1="1067.5" y1="479" x2="1067.5" y2="486" stroke="#000" stroke-width="1.1"/>
<rect x="1064.5" y="480.5" width="6" height="5" fill="url(#gG)" stroke="#000" stroke-width="1"/>
<line x1="1076.5" y1="467" x2="1076.5" y2="499" stroke="#000" stroke-width="1.1"/>
<rect x="1073.5" y="480.5" width="6" height="13" fill="url(#gR)" stroke="#000" stroke-width="1"/>
<line x1="1086.5" y1="484" x2="1086.5" y2="531" stroke="#000" stroke-width="1.1"/>
<rect x="1083.5" y="493.5" width="6" height="30" fill="url(#gR)" stroke="#000" stroke-width="1"/>
<line x1="1" y1="84.9" x2="780" y2="195.4" stroke="#1a1a1a" stroke-width="1"/>
<rect x="1" y="163" width="1127" height="1" fill="#111"/>
<rect x="1" y="415" width="1127" height="1" fill="#111"/>
<line x1="408" y1="409.5" x2="752.5" y2="335" stroke="#1a1a1a" stroke-width="1"/>
<polyline points="1.0,96.8 26.7,100.9 38.8,103.3 63.0,109.4 99.4,116.7 113.9,120.3 150.3,127.6 162.4,130.7 200.0,137.8 225.8,142.9 251.5,148.0 274.7,152.7 295.3,155.8 323.6,159.6 344.3,162.2 367.4,164.8 400.0,169.7 424.5,174.2 446.4,178.5 476.4,181.8 503.6,184.5 536.4,187.3 569.1,190.5 585.4,193.3 600.0,193.3 627.3,197.7 654.5,201.8 681.8,205.9 709.1,210.5 736.4,216.0 763.6,222.3 800.0,228.9 827.3,234.2 860.0,239.6 895.4,246.5 933.6,254.1 969.1,259.5 990.0,261.5 1011.2,266.4 1029.8,269.9 1056.3,275.7 1069.6,277.3 1086.0,279.2" fill="none" stroke="#ff0000" stroke-width="3" stroke-linejoin="round"/>
<polyline points="1.0,171.9 26.7,174.4 65.5,182.1 101.8,188.2 135.8,191.3 150.3,193.8 174.5,194.2 200.0,197.4 225.8,201.6 264.4,210.4 295.3,217.1 341.7,226.6 367.4,230.0 400.0,237.0 424.5,240.4 454.5,247.8 487.3,252.7 520.0,256.0 547.3,263.1 569.1,266.9 600.0,269.5 627.3,274.1 654.5,280.4 681.8,288.0 709.1,294.0 736.4,302.0 763.6,310.4 800.0,318.6 827.3,323.6 860.0,326.9 887.3,331.3 914.5,337.3 941.8,343.3 969.1,348.7 990.0,351.9 1003.3,353.4 1021.8,358.2 1048.3,364.6 1069.6,368.8 1086.0,372.5" fill="none" stroke="#ff9933" stroke-width="3" stroke-linejoin="round"/>
<polyline points="1.0,190.1 14.5,190.1 36.4,192.3 65.5,201.5 101.8,208.8 111.5,210.0 130.9,214.8 150.3,222.1 169.7,228.2 200.0,244.0 215.5,251.1 228.3,257.0 256.7,270.4 277.3,277.3 297.9,284.0 318.5,286.4 344.3,287.1 370.0,287.6 400.0,292.8 427.3,298.5 449.1,305.9 481.8,316.3 514.5,320.9 541.8,323.1 574.5,327.7 600.0,328.0 627.3,329.4 654.5,329.4 681.8,329.4 709.1,330.8 736.4,332.2 752.7,335.4 774.5,342.3 800.0,352.7 827.3,361.3 849.1,365.9 881.8,368.6 914.5,374.1 941.8,376.8 963.6,377.3 974.5,380.9 990.0,384.7 1005.9,389.2 1021.8,395.3 1043.0,401.2 1056.3,405.1 1069.6,411.0 1086.0,417.1" fill="none" stroke="#3300cc" stroke-width="3" stroke-linejoin="round"/>
</g>
<rect x="0.5" y="148.5" width="42" height="15" fill="#fff" stroke="#111" stroke-width="1"/>
<text x="3.8" y="161" font-size="9" class="tk" fill="#000" textLength="35" lengthAdjust="spacingAndGlyphs">19,122.8</text>
<rect x="0.5" y="400.5" width="42" height="15" fill="#fff" stroke="#111" stroke-width="1"/>
<text x="3.8" y="413" font-size="9" class="tk" fill="#000" textLength="35" lengthAdjust="spacingAndGlyphs">16,776.4</text>
<rect x="1129" y="77" width="4" height="1" fill="#7d94a0"/>
<text x="1134.8" y="80" class="tk" font-size="9.85" fill="#000" textLength="32.4" lengthAdjust="spacingAndGlyphs">20,000</text>
<rect x="1129" y="126" width="4" height="1" fill="#7d94a0"/>
<text x="1135.8" y="129" class="tk" font-size="9.85" fill="#000" textLength="26.4" lengthAdjust="spacingAndGlyphs">19,500</text>
<rect x="1129" y="176" width="4" height="1" fill="#7d94a0"/>
<text x="1135.8" y="179" class="tk" font-size="9.85" fill="#000" textLength="26.1" lengthAdjust="spacingAndGlyphs">19,000</text>
<rect x="1129" y="227" width="4" height="1" fill="#7d94a0"/>
<text x="1135.8" y="230" class="tk" font-size="9.85" fill="#000" textLength="26.3" lengthAdjust="spacingAndGlyphs">18,500</text>
<rect x="1129" y="334" width="4" height="1" fill="#7d94a0"/>
<text x="1135.8" y="337" class="tk" font-size="9.85" fill="#000" textLength="26.1" lengthAdjust="spacingAndGlyphs">17,500</text>
<rect x="1129" y="389" width="4" height="1" fill="#7d94a0"/>
<text x="1135.8" y="392" class="tk" font-size="9.85" fill="#000" textLength="26.1" lengthAdjust="spacingAndGlyphs">17,000</text>
<rect x="1129" y="446" width="4" height="1" fill="#7d94a0"/>
<text x="1135.8" y="449" class="tk" font-size="9.85" fill="#000" textLength="26.1" lengthAdjust="spacingAndGlyphs">16,500</text>
<rect x="1129" y="506" width="4" height="1" fill="#7d94a0"/>
<text x="1135.8" y="509" class="tk" font-size="9.85" fill="#000" textLength="26.1" lengthAdjust="spacingAndGlyphs">16,000</text>
<rect x="1129" y="278.75" width="4" height="1.5" fill="#ff0000"/>
<rect x="1133.5" y="272.5" width="37" height="13" fill="#fff" stroke="#6f8894" stroke-width="1"/>
<text x="1135.8" y="283" font-size="9.85" fill="#ff0000" stroke="#ff0000" stroke-width="0.25" textLength="32.5" lengthAdjust="spacingAndGlyphs">18,003..</text>
<rect x="1129" y="371.75" width="4" height="1.5" fill="#ff9933"/>
<rect x="1133.5" y="365.5" width="37" height="13" fill="#fff" stroke="#6f8894" stroke-width="1"/>
<text x="1135.8" y="376" font-size="9.85" fill="#ff9933" stroke="#ff9933" stroke-width="0.25" textLength="32.5" lengthAdjust="spacingAndGlyphs">17,153..</text>
<rect x="1129" y="416.75" width="4" height="1.5" fill="#3300cc"/>
<rect x="1133.5" y="410.5" width="37" height="13" fill="#fff" stroke="#6f8894" stroke-width="1"/>
<text x="1135.8" y="421" font-size="9.85" fill="#3300cc" stroke="#3300cc" stroke-width="0.25" textLength="32.5" lengthAdjust="spacingAndGlyphs">16,756..</text>
<rect x="1129" y="522.75" width="4" height="1.5" fill="#000"/>
<rect x="1133.5" y="516.5" width="37" height="13" fill="url(#yel)" stroke="#7d94a0" stroke-width="1"/>
<text x="1135.8" y="527" font-size="9.85" fill="#000" stroke="#000" stroke-width="0.25" textLength="32.5" lengthAdjust="spacingAndGlyphs">15,859..</text>
<rect x="3" y="532" width="105" height="18" rx="2.5" fill="#9b9fa3"/>
<rect x="3" y="532" width="18" height="18" fill="#e07a7a"/>
<text x="4.5" y="546" font-size="12.5" font-weight="bold" fill="#fff" textLength="14.5" lengthAdjust="spacingAndGlyphs">IG</text>
<text x="28" y="545.5" font-size="11.5" fill="#f5e66a" stroke="#f5e66a" stroke-width="0.35" textLength="73" lengthAdjust="spacingAndGlyphs">ProRealTime</text>
<g clip-path="url(#macdclip)">
<polygon points="1.0,599.4 7.0,595.3 17.0,594.0 26.0,592.2 45.0,602.0 55.0,605.0 83.0,605.0 93.0,603.5 102.0,604.5 120.0,604.0 140.0,605.0 150.0,611.1 170.0,605.4 180.0,606.5 190.0,612.2 205.0,614.2 220.0,611.1 235.0,611.1 255.0,619.3 265.0,621.4 277.0,615.2 295.0,610.1 305.0,603.0 312.0,594.8 322.0,591.3 340.0,590.3 350.5,588.0 359.7,587.2 370.9,589.7 379.1,595.8 389.3,604.0 397.5,608.5 408.7,611.1 417.9,608.5 428.2,610.1 437.4,611.1 446.6,610.1 456.8,608.7 465.0,606.6 475.3,606.6 483.4,605.4 493.6,601.9 503.8,591.7 514.0,584.1 522.2,579.4 532.5,576.4 541.7,576.4 550.9,579.4 561.1,582.5 570.2,584.1 580.5,583.5 590.7,576.4 598.9,567.8 603.0,567.8 615.3,569.8 627.5,571.2 637.7,567.2 656.1,569.2 666.3,568.2 678.6,570.2 690.9,573.3 703.1,579.4 715.4,588.6 727.7,596.4 740.0,603.0 752.3,611.1 764.5,621.4 774.8,628.5 785.0,633.2 800.2,638.8 816.6,639.3 826.8,636.8 837.0,630.7 847.3,625.6 857.5,620.0 867.7,617.4 875.9,614.3 886.1,614.3 895.3,610.2 904.5,610.2 914.7,607.8 925.0,604.1 933.2,602.0 943.4,592.8 953.6,586.7 961.8,583.6 972.0,586.7 982.2,586.7 992.5,588.7 1002.7,591.8 1013.6,593.2 1024.6,598.0 1032.7,602.7 1039.6,606.8 1047.7,608.2 1057.3,609.3 1066.8,609.6 1075.0,610.3 1081.9,612.3 1086.6,614.3 1086.0,606.6 1076.4,604.8 1068.2,603.4 1058.7,602.1 1049.1,600.7 1040.9,599.3 1032.7,598.0 1024.6,595.9 1013.6,593.9 1004.7,592.8 994.5,592.8 984.3,593.4 974.0,594.9 963.8,596.9 953.6,600.0 943.4,604.1 933.1,609.2 922.9,611.9 912.7,614.3 902.5,616.3 892.2,618.4 882.0,620.4 871.8,622.9 861.6,625.6 851.4,627.6 841.1,629.0 830.9,628.6 820.7,627.0 810.5,624.1 800.2,620.4 790.0,614.3 780.9,609.1 768.7,603.0 756.4,594.8 744.1,588.6 731.8,583.5 719.6,578.4 707.3,574.3 695.0,571.2 682.7,571.2 670.5,571.2 656.1,571.9 641.8,573.9 627.5,574.7 613.2,576.0 600.9,578.4 590.7,582.5 580.5,585.2 570.2,585.6 561.1,586.0 550.9,586.2 541.7,588.2 532.5,591.1 522.2,595.2 514.0,598.9 503.8,603.0 493.6,605.4 483.4,606.6 475.3,607.5 465.0,607.5 456.8,607.5 446.6,606.6 437.4,606.0 428.2,604.6 417.9,603.4 408.7,601.9 397.5,598.9 389.3,596.8 379.1,594.4 370.9,593.8 360.7,594.8 350.5,596.8 340.2,599.9 330.0,603.0 320.0,607.0 300.0,613.0 285.0,615.5 265.0,615.0 240.0,611.0 220.0,610.5 205.0,609.0 180.0,606.0 150.0,606.0 140.0,604.0 100.0,604.0 55.0,604.5 45.0,604.5 26.0,606.0 1.0,617.3" fill="#d7f5d7" clip-path="url(#abv)"/>
<polygon points="1.0,599.4 7.0,595.3 17.0,594.0 26.0,592.2 45.0,602.0 55.0,605.0 83.0,605.0 93.0,603.5 102.0,604.5 120.0,604.0 140.0,605.0 150.0,611.1 170.0,605.4 180.0,606.5 190.0,612.2 205.0,614.2 220.0,611.1 235.0,611.1 255.0,619.3 265.0,621.4 277.0,615.2 295.0,610.1 305.0,603.0 312.0,594.8 322.0,591.3 340.0,590.3 350.5,588.0 359.7,587.2 370.9,589.7 379.1,595.8 389.3,604.0 397.5,608.5 408.7,611.1 417.9,608.5 428.2,610.1 437.4,611.1 446.6,610.1 456.8,608.7 465.0,606.6 475.3,606.6 483.4,605.4 493.6,601.9 503.8,591.7 514.0,584.1 522.2,579.4 532.5,576.4 541.7,576.4 550.9,579.4 561.1,582.5 570.2,584.1 580.5,583.5 590.7,576.4 598.9,567.8 603.0,567.8 615.3,569.8 627.5,571.2 637.7,567.2 656.1,569.2 666.3,568.2 678.6,570.2 690.9,573.3 703.1,579.4 715.4,588.6 727.7,596.4 740.0,603.0 752.3,611.1 764.5,621.4 774.8,628.5 785.0,633.2 800.2,638.8 816.6,639.3 826.8,636.8 837.0,630.7 847.3,625.6 857.5,620.0 867.7,617.4 875.9,614.3 886.1,614.3 895.3,610.2 904.5,610.2 914.7,607.8 925.0,604.1 933.2,602.0 943.4,592.8 953.6,586.7 961.8,583.6 972.0,586.7 982.2,586.7 992.5,588.7 1002.7,591.8 1013.6,593.2 1024.6,598.0 1032.7,602.7 1039.6,606.8 1047.7,608.2 1057.3,609.3 1066.8,609.6 1075.0,610.3 1081.9,612.3 1086.6,614.3 1086.0,606.6 1076.4,604.8 1068.2,603.4 1058.7,602.1 1049.1,600.7 1040.9,599.3 1032.7,598.0 1024.6,595.9 1013.6,593.9 1004.7,592.8 994.5,592.8 984.3,593.4 974.0,594.9 963.8,596.9 953.6,600.0 943.4,604.1 933.1,609.2 922.9,611.9 912.7,614.3 902.5,616.3 892.2,618.4 882.0,620.4 871.8,622.9 861.6,625.6 851.4,627.6 841.1,629.0 830.9,628.6 820.7,627.0 810.5,624.1 800.2,620.4 790.0,614.3 780.9,609.1 768.7,603.0 756.4,594.8 744.1,588.6 731.8,583.5 719.6,578.4 707.3,574.3 695.0,571.2 682.7,571.2 670.5,571.2 656.1,571.9 641.8,573.9 627.5,574.7 613.2,576.0 600.9,578.4 590.7,582.5 580.5,585.2 570.2,585.6 561.1,586.0 550.9,586.2 541.7,588.2 532.5,591.1 522.2,595.2 514.0,598.9 503.8,603.0 493.6,605.4 483.4,606.6 475.3,607.5 465.0,607.5 456.8,607.5 446.6,606.6 437.4,606.0 428.2,604.6 417.9,603.4 408.7,601.9 397.5,598.9 389.3,596.8 379.1,594.4 370.9,593.8 360.7,594.8 350.5,596.8 340.2,599.9 330.0,603.0 320.0,607.0 300.0,613.0 285.0,615.5 265.0,615.0 240.0,611.0 220.0,610.5 205.0,609.0 180.0,606.0 150.0,606.0 140.0,604.0 100.0,604.0 55.0,604.5 45.0,604.5 26.0,606.0 1.0,617.3" fill="#f8d3d3" clip-path="url(#blw)"/>
<rect x="3.5" y="561.5" width="7" height="19" fill="url(#hG)" stroke="#249a24" stroke-width="1"/>
<rect x="12.5" y="559.5" width="7" height="21" fill="url(#hG)" stroke="#249a24" stroke-width="1"/>
<rect x="22.5" y="557.5" width="7" height="23" fill="url(#hG)" stroke="#249a24" stroke-width="1"/>
<rect x="31.5" y="573.5" width="7" height="7" fill="url(#hG)" stroke="#249a24" stroke-width="1"/>
<rect x="41.5" y="578.5" width="7" height="2" fill="url(#hG)" stroke="#249a24" stroke-width="1"/>
<rect x="60" y="581" width="8" height="1" fill="#b03434"/>
<rect x="89.5" y="579.5" width="7" height="1" fill="url(#hG)" stroke="#249a24" stroke-width="1"/>
<rect x="108.5" y="579.5" width="7" height="1" fill="url(#hG)" stroke="#249a24" stroke-width="1"/>
<rect x="136" y="581" width="8" height="1" fill="#b03434"/>
<rect x="146.5" y="581.5" width="7" height="4" fill="url(#hR)" stroke="#b03434" stroke-width="1"/>
<rect x="156.5" y="581.5" width="7" height="1" fill="url(#hR)" stroke="#b03434" stroke-width="1"/>
<rect x="165.5" y="579.5" width="7" height="1" fill="url(#hG)" stroke="#249a24" stroke-width="1"/>
<rect x="184.5" y="581.5" width="7" height="3" fill="url(#hR)" stroke="#b03434" stroke-width="1"/>
<rect x="194.5" y="581.5" width="7" height="3" fill="url(#hR)" stroke="#b03434" stroke-width="1"/>
<rect x="203.5" y="581.5" width="7" height="4" fill="url(#hR)" stroke="#b03434" stroke-width="1"/>
<rect x="213.5" y="581.5" width="7" height="2" fill="url(#hR)" stroke="#b03434" stroke-width="1"/>
<rect x="222" y="581" width="8" height="1" fill="#b03434"/>
<rect x="242.5" y="581.5" width="7" height="2" fill="url(#hR)" stroke="#b03434" stroke-width="1"/>
<rect x="251.5" y="581.5" width="7" height="5" fill="url(#hR)" stroke="#b03434" stroke-width="1"/>
<rect x="261.5" y="581.5" width="7" height="5" fill="url(#hR)" stroke="#b03434" stroke-width="1"/>
<rect x="270" y="581" width="8" height="1" fill="#b03434"/>
<rect x="280.5" y="578.5" width="7" height="2" fill="url(#hG)" stroke="#249a24" stroke-width="1"/>
<rect x="289.5" y="576.5" width="7" height="4" fill="url(#hG)" stroke="#249a24" stroke-width="1"/>
<rect x="299.5" y="571.5" width="7" height="9" fill="url(#hG)" stroke="#249a24" stroke-width="1"/>
<rect x="308.5" y="566.5" width="7" height="14" fill="url(#hG)" stroke="#249a24" stroke-width="1"/>
<rect x="318.5" y="566.5" width="7" height="14" fill="url(#hG)" stroke="#249a24" stroke-width="1"/>
<rect x="327.5" y="569.5" width="7" height="11" fill="url(#hG)" stroke="#249a24" stroke-width="1"/>
<rect x="337.5" y="571.5" width="7" height="9" fill="url(#hG)" stroke="#249a24" stroke-width="1"/>
<rect x="347.5" y="571.5" width="7" height="9" fill="url(#hG)" stroke="#249a24" stroke-width="1"/>
<rect x="356.5" y="572.5" width="7" height="8" fill="url(#hG)" stroke="#249a24" stroke-width="1"/>
<rect x="366.5" y="575.5" width="7" height="5" fill="url(#hG)" stroke="#249a24" stroke-width="1"/>
<rect x="375" y="581" width="8" height="1" fill="#b03434"/>
<rect x="385.5" y="581.5" width="7" height="6" fill="url(#hR)" stroke="#b03434" stroke-width="1"/>
<rect x="394.5" y="581.5" width="7" height="8" fill="url(#hR)" stroke="#b03434" stroke-width="1"/>
<rect x="404.5" y="581.5" width="7" height="8" fill="url(#hR)" stroke="#b03434" stroke-width="1"/>
<rect x="413.5" y="581.5" width="7" height="4" fill="url(#hR)" stroke="#b03434" stroke-width="1"/>
<rect x="423.5" y="581.5" width="7" height="5" fill="url(#hR)" stroke="#b03434" stroke-width="1"/>
<rect x="433.5" y="581.5" width="7" height="4" fill="url(#hR)" stroke="#b03434" stroke-width="1"/>
<rect x="442.5" y="581.5" width="7" height="3" fill="url(#hR)" stroke="#b03434" stroke-width="1"/>
<rect x="452.5" y="581.5" width="7" height="1" fill="url(#hR)" stroke="#b03434" stroke-width="1"/>
<rect x="461.5" y="579.5" width="7" height="1" fill="url(#hG)" stroke="#249a24" stroke-width="1"/>
<rect x="480.5" y="578.5" width="7" height="2" fill="url(#hG)" stroke="#249a24" stroke-width="1"/>
<rect x="490.5" y="576.5" width="7" height="4" fill="url(#hG)" stroke="#249a24" stroke-width="1"/>
<rect x="499.5" y="569.5" width="7" height="11" fill="url(#hG)" stroke="#249a24" stroke-width="1"/>
<rect x="509.5" y="566.5" width="7" height="14" fill="url(#hG)" stroke="#249a24" stroke-width="1"/>
<rect x="519.5" y="564.5" width="7" height="16" fill="url(#hG)" stroke="#249a24" stroke-width="1"/>
<rect x="528.5" y="565.5" width="7" height="15" fill="url(#hG)" stroke="#249a24" stroke-width="1"/>
<rect x="538.5" y="568.5" width="7" height="12" fill="url(#hG)" stroke="#249a24" stroke-width="1"/>
<rect x="547.5" y="572.5" width="7" height="8" fill="url(#hG)" stroke="#249a24" stroke-width="1"/>
<rect x="557.5" y="576.5" width="7" height="4" fill="url(#hG)" stroke="#249a24" stroke-width="1"/>
<rect x="566.5" y="579.5" width="7" height="1" fill="url(#hG)" stroke="#249a24" stroke-width="1"/>
<rect x="576.5" y="578.5" width="7" height="2" fill="url(#hG)" stroke="#249a24" stroke-width="1"/>
<rect x="585.5" y="574.5" width="7" height="6" fill="url(#hG)" stroke="#249a24" stroke-width="1"/>
<rect x="595.5" y="568.5" width="7" height="12" fill="url(#hG)" stroke="#249a24" stroke-width="1"/>
<rect x="604.5" y="570.5" width="7" height="10" fill="url(#hG)" stroke="#249a24" stroke-width="1"/>
<rect x="614.5" y="573.5" width="7" height="7" fill="url(#hG)" stroke="#249a24" stroke-width="1"/>
<rect x="624.5" y="576.5" width="7" height="4" fill="url(#hG)" stroke="#249a24" stroke-width="1"/>
<rect x="633.5" y="574.5" width="7" height="6" fill="url(#hG)" stroke="#249a24" stroke-width="1"/>
<rect x="643.5" y="576.5" width="7" height="4" fill="url(#hG)" stroke="#249a24" stroke-width="1"/>
<rect x="652.5" y="577.5" width="7" height="3" fill="url(#hG)" stroke="#249a24" stroke-width="1"/>
<rect x="662.5" y="577.5" width="7" height="3" fill="url(#hG)" stroke="#249a24" stroke-width="1"/>
<rect x="671.5" y="579.5" width="7" height="1" fill="url(#hG)" stroke="#249a24" stroke-width="1"/>
<rect x="690.5" y="581.5" width="7" height="1" fill="url(#hR)" stroke="#b03434" stroke-width="1"/>
<rect x="700.5" y="581.5" width="7" height="5" fill="url(#hR)" stroke="#b03434" stroke-width="1"/>
<rect x="710.5" y="581.5" width="7" height="10" fill="url(#hR)" stroke="#b03434" stroke-width="1"/>
<rect x="719.5" y="581.5" width="7" height="13" fill="url(#hR)" stroke="#b03434" stroke-width="1"/>
<rect x="729.5" y="581.5" width="7" height="15" fill="url(#hR)" stroke="#b03434" stroke-width="1"/>
<rect x="738.5" y="581.5" width="7" height="16" fill="url(#hR)" stroke="#b03434" stroke-width="1"/>
<rect x="748.5" y="581.5" width="7" height="18" fill="url(#hR)" stroke="#b03434" stroke-width="1"/>
<rect x="757.5" y="581.5" width="7" height="21" fill="url(#hR)" stroke="#b03434" stroke-width="1"/>
<rect x="767.5" y="581.5" width="7" height="22" fill="url(#hR)" stroke="#b03434" stroke-width="1"/>
<rect x="776.5" y="581.5" width="7" height="19" fill="url(#hR)" stroke="#b03434" stroke-width="1"/>
<rect x="786.5" y="581.5" width="7" height="19" fill="url(#hR)" stroke="#b03434" stroke-width="1"/>
<rect x="795.5" y="581.5" width="7" height="18" fill="url(#hR)" stroke="#b03434" stroke-width="1"/>
<rect x="805.5" y="581.5" width="7" height="15" fill="url(#hR)" stroke="#b03434" stroke-width="1"/>
<rect x="815.5" y="581.5" width="7" height="11" fill="url(#hR)" stroke="#b03434" stroke-width="1"/>
<rect x="824.5" y="581.5" width="7" height="7" fill="url(#hR)" stroke="#b03434" stroke-width="1"/>
<rect x="834.5" y="581.5" width="7" height="1" fill="url(#hR)" stroke="#b03434" stroke-width="1"/>
<rect x="843.5" y="577.5" width="7" height="3" fill="url(#hG)" stroke="#249a24" stroke-width="1"/>
<rect x="853.5" y="573.5" width="7" height="7" fill="url(#hG)" stroke="#249a24" stroke-width="1"/>
<rect x="862.5" y="573.5" width="7" height="7" fill="url(#hG)" stroke="#249a24" stroke-width="1"/>
<rect x="872.5" y="571.5" width="7" height="9" fill="url(#hG)" stroke="#249a24" stroke-width="1"/>
<rect x="881.5" y="573.5" width="7" height="7" fill="url(#hG)" stroke="#249a24" stroke-width="1"/>
<rect x="891.5" y="571.5" width="7" height="9" fill="url(#hG)" stroke="#249a24" stroke-width="1"/>
<rect x="901.5" y="572.5" width="7" height="8" fill="url(#hG)" stroke="#249a24" stroke-width="1"/>
<rect x="910.5" y="572.5" width="7" height="8" fill="url(#hG)" stroke="#249a24" stroke-width="1"/>
<rect x="920.5" y="571.5" width="7" height="9" fill="url(#hG)" stroke="#249a24" stroke-width="1"/>
<rect x="929.5" y="571.5" width="7" height="9" fill="url(#hG)" stroke="#249a24" stroke-width="1"/>
<rect x="939.5" y="567.5" width="7" height="13" fill="url(#hG)" stroke="#249a24" stroke-width="1"/>
<rect x="948.5" y="564.5" width="7" height="16" fill="url(#hG)" stroke="#249a24" stroke-width="1"/>
<rect x="958.5" y="563.5" width="7" height="17" fill="url(#hG)" stroke="#249a24" stroke-width="1"/>
<rect x="967.5" y="569.5" width="7" height="11" fill="url(#hG)" stroke="#249a24" stroke-width="1"/>
<rect x="977.5" y="572.5" width="7" height="8" fill="url(#hG)" stroke="#249a24" stroke-width="1"/>
<rect x="987.5" y="575.5" width="7" height="5" fill="url(#hG)" stroke="#249a24" stroke-width="1"/>
<rect x="996.5" y="578.5" width="7" height="2" fill="url(#hG)" stroke="#249a24" stroke-width="1"/>
<rect x="1006.5" y="579.5" width="7" height="1" fill="url(#hG)" stroke="#249a24" stroke-width="1"/>
<rect x="1015.5" y="581.5" width="7" height="1" fill="url(#hR)" stroke="#b03434" stroke-width="1"/>
<rect x="1025.5" y="581.5" width="7" height="5" fill="url(#hR)" stroke="#b03434" stroke-width="1"/>
<rect x="1034.5" y="581.5" width="7" height="8" fill="url(#hR)" stroke="#b03434" stroke-width="1"/>
<rect x="1044.5" y="581.5" width="7" height="8" fill="url(#hR)" stroke="#b03434" stroke-width="1"/>
<rect x="1053.5" y="581.5" width="7" height="6" fill="url(#hR)" stroke="#b03434" stroke-width="1"/>
<rect x="1063.5" y="581.5" width="7" height="6" fill="url(#hR)" stroke="#b03434" stroke-width="1"/>
<rect x="1072.5" y="581.5" width="7" height="6" fill="url(#hR)" stroke="#b03434" stroke-width="1"/>
<rect x="1082.5" y="581.5" width="7" height="7" fill="url(#hR)" stroke="#b03434" stroke-width="1"/>
<rect x="1" y="580" width="1126" height="1" fill="#3a3ae6"/>
<polyline points="1.0,617.3 26.0,606.0 45.0,604.5 55.0,604.5 100.0,604.0 140.0,604.0 150.0,606.0 180.0,606.0 205.0,609.0 220.0,610.5 240.0,611.0 265.0,615.0 285.0,615.5 300.0,613.0 320.0,607.0 330.0,603.0 340.2,599.9 350.5,596.8 360.7,594.8 370.9,593.8 379.1,594.4 389.3,596.8 397.5,598.9 408.7,601.9 417.9,603.4 428.2,604.6 437.4,606.0 446.6,606.6 456.8,607.5 465.0,607.5 475.3,607.5 483.4,606.6 493.6,605.4 503.8,603.0 514.0,598.9 522.2,595.2 532.5,591.1 541.7,588.2 550.9,586.2 561.1,586.0 570.2,585.6 580.5,585.2 590.7,582.5 600.9,578.4 613.2,576.0 627.5,574.7 641.8,573.9 656.1,571.9 670.5,571.2 682.7,571.2 695.0,571.2 707.3,574.3 719.6,578.4 731.8,583.5 744.1,588.6 756.4,594.8 768.7,603.0 780.9,609.1 790.0,614.3 800.2,620.4 810.5,624.1 820.7,627.0 830.9,628.6 841.1,629.0 851.4,627.6 861.6,625.6 871.8,622.9 882.0,620.4 892.2,618.4 902.5,616.3 912.7,614.3 922.9,611.9 933.1,609.2 943.4,604.1 953.6,600.0 963.8,596.9 974.0,594.9 984.3,593.4 994.5,592.8 1004.7,592.8 1013.6,593.9 1024.6,595.9 1032.7,598.0 1040.9,599.3 1049.1,600.7 1058.7,602.1 1068.2,603.4 1076.4,604.8 1086.0,606.6" fill="none" stroke="#e86060" stroke-width="1"/>
<polyline points="1.0,599.4 7.0,595.3 17.0,594.0 26.0,592.2 45.0,602.0 55.0,605.0 83.0,605.0 93.0,603.5 102.0,604.5 120.0,604.0 140.0,605.0 150.0,611.1 170.0,605.4 180.0,606.5 190.0,612.2 205.0,614.2 220.0,611.1 235.0,611.1 255.0,619.3 265.0,621.4 277.0,615.2 295.0,610.1 305.0,603.0 312.0,594.8 322.0,591.3 340.0,590.3 350.5,588.0 359.7,587.2 370.9,589.7 379.1,595.8 389.3,604.0 397.5,608.5 408.7,611.1 417.9,608.5 428.2,610.1 437.4,611.1 446.6,610.1 456.8,608.7 465.0,606.6 475.3,606.6 483.4,605.4 493.6,601.9 503.8,591.7 514.0,584.1 522.2,579.4 532.5,576.4 541.7,576.4 550.9,579.4 561.1,582.5 570.2,584.1 580.5,583.5 590.7,576.4 598.9,567.8 603.0,567.8 615.3,569.8 627.5,571.2 637.7,567.2 656.1,569.2 666.3,568.2 678.6,570.2 690.9,573.3 703.1,579.4 715.4,588.6 727.7,596.4 740.0,603.0 752.3,611.1 764.5,621.4 774.8,628.5 785.0,633.2 800.2,638.8 816.6,639.3 826.8,636.8 837.0,630.7 847.3,625.6 857.5,620.0 867.7,617.4 875.9,614.3 886.1,614.3 895.3,610.2 904.5,610.2 914.7,607.8 925.0,604.1 933.2,602.0 943.4,592.8 953.6,586.7 961.8,583.6 972.0,586.7 982.2,586.7 992.5,588.7 1002.7,591.8 1013.6,593.2 1024.6,598.0 1032.7,602.7 1039.6,606.8 1047.7,608.2 1057.3,609.3 1066.8,609.6 1075.0,610.3 1081.9,612.3 1086.6,614.3" fill="none" stroke="#3c3ce0" stroke-width="1.1"/>
</g>
<rect x="1" y="553" width="82" height="14" fill="#cfdde4"/>
<rect x="1" y="567" width="82" height="1" fill="#7c939f"/><rect x="82" y="553" width="1" height="15" fill="#7c939f"/>
<rect x="5" y="556" width="3" height="8" fill="#44d44a"/><rect x="8" y="556" width="2" height="8" fill="#e06666"/><rect x="10" y="556" width="3" height="8" fill="#2233dd"/>
<svg x="16" y="553" width="65" height="14"><text x="0.5" y="9.3" font-size="9" class="tk" fill="#000" textLength="68" lengthAdjust="spacingAndGlyphs">MACD (12 26 9)</text></svg>
<rect x="1127" y="563" width="4" height="1" fill="#7d94a0"/>
<text x="1133.6" y="566" class="tk" font-size="9.85" fill="#000" textLength="14.6" lengthAdjust="spacingAndGlyphs">100</text>
<rect x="1127" y="580" width="4" height="1" fill="#7d94a0"/>
<text x="1133.6" y="583" class="tk" font-size="9.85" fill="#000" textLength="5.2" lengthAdjust="spacingAndGlyphs">0</text>
<rect x="1127" y="597" width="4" height="1" fill="#7d94a0"/>
<text x="1133.6" y="600" class="tk" font-size="9.85" fill="#000" textLength="17.8" lengthAdjust="spacingAndGlyphs">-100</text>
<rect x="1127" y="614" width="4" height="1" fill="#7d94a0"/>
<text x="1133.6" y="617" class="tk" font-size="9.85" fill="#000" textLength="17.8" lengthAdjust="spacingAndGlyphs">-200</text>
<rect x="1127" y="631" width="4" height="1" fill="#7d94a0"/>
<text x="1133.6" y="634" class="tk" font-size="9.85" fill="#000" textLength="17.8" lengthAdjust="spacingAndGlyphs">-300</text>
<rect x="1127" y="589" width="4" height="1" fill="#e05050"/>
<rect x="1131.5" y="581.5" width="34" height="12.5" fill="#fff" stroke="#555" stroke-width="1"/>
<text x="1132.5" y="591.4" font-size="10" fill="#e05050" stroke="#e05050" stroke-width="0.2" textLength="31" lengthAdjust="spacingAndGlyphs">-47.274</text>
<rect x="1127" y="605" width="4" height="1" fill="#e05050"/>
<rect x="1131.5" y="597.5" width="34" height="11.5" fill="#fff" stroke="#555" stroke-width="1"/>
<text x="1132.5" y="606.9" font-size="10" fill="#e05050" stroke="#e05050" stroke-width="0.2" textLength="31" lengthAdjust="spacingAndGlyphs">-153.84</text>
<rect x="1127" y="615" width="4" height="1" fill="#4040e0"/>
<rect x="1131.5" y="609.5" width="34" height="11.7" fill="#fff" stroke="#555" stroke-width="1"/>
<text x="1132.5" y="619.0" font-size="10" fill="#4040e0" stroke="#4040e0" stroke-width="0.2" textLength="31" lengthAdjust="spacingAndGlyphs">-201.11</text>
<rect x="26" y="644" width="1" height="3" fill="#7a919c"/>
<text x="20.6" y="656" class="tk" font-size="9.85" fill="#000" textLength="10.2" lengthAdjust="spacingAndGlyphs">06</text>
<rect x="55" y="644" width="1" height="3" fill="#7a919c"/>
<text x="49.6" y="656" class="tk" font-size="9.85" fill="#000" textLength="10.2" lengthAdjust="spacingAndGlyphs">10</text>
<rect x="83" y="644" width="1" height="3" fill="#7a919c"/>
<text x="77.6" y="656" class="tk" font-size="9.85" fill="#000" textLength="10.2" lengthAdjust="spacingAndGlyphs">13</text>
<rect x="112" y="644" width="1" height="3" fill="#7a919c"/>
<text x="106.6" y="656" class="tk" font-size="9.85" fill="#000" textLength="10.2" lengthAdjust="spacingAndGlyphs">17</text>
<rect x="140" y="644" width="1" height="3" fill="#7a919c"/>
<text x="134.6" y="656" class="tk" font-size="9.85" fill="#000" textLength="10.2" lengthAdjust="spacingAndGlyphs">20</text>
<rect x="169" y="644" width="1" height="3" fill="#7a919c"/>
<text x="163.6" y="656" class="tk" font-size="9.85" fill="#000" textLength="10.2" lengthAdjust="spacingAndGlyphs">24</text>
<rect x="198" y="644" width="1" height="3" fill="#7a919c"/>
<text x="192.6" y="656" class="tk" font-size="9.85" fill="#000" textLength="10.2" lengthAdjust="spacingAndGlyphs">27</text>
<rect x="226" y="644" width="1" height="3" fill="#7a919c"/>
<text x="217.7" y="656" class="tk" font-size="9.85" fill="#000" textLength="16.0" lengthAdjust="spacingAndGlyphs">Oct</text>
<rect x="255" y="644" width="1" height="3" fill="#7a919c"/>
<text x="249.6" y="656" class="tk" font-size="9.85" fill="#000" textLength="10.2" lengthAdjust="spacingAndGlyphs">04</text>
<rect x="284" y="644" width="1" height="3" fill="#7a919c"/>
<text x="278.6" y="656" class="tk" font-size="9.85" fill="#000" textLength="10.2" lengthAdjust="spacingAndGlyphs">08</text>
<rect x="312" y="644" width="1" height="3" fill="#7a919c"/>
<text x="306.6" y="656" class="tk" font-size="9.85" fill="#000" textLength="10.2" lengthAdjust="spacingAndGlyphs">11</text>
<rect x="341" y="644" width="1" height="3" fill="#7a919c"/>
<text x="335.6" y="656" class="tk" font-size="9.85" fill="#000" textLength="10.2" lengthAdjust="spacingAndGlyphs">15</text>
<rect x="370" y="644" width="1" height="3" fill="#7a919c"/>
<text x="364.6" y="656" class="tk" font-size="9.85" fill="#000" textLength="10.2" lengthAdjust="spacingAndGlyphs">18</text>
<rect x="398" y="644" width="1" height="3" fill="#7a919c"/>
<text x="392.6" y="656" class="tk" font-size="9.85" fill="#000" textLength="10.2" lengthAdjust="spacingAndGlyphs">22</text>
<rect x="427" y="644" width="1" height="3" fill="#7a919c"/>
<text x="421.6" y="656" class="tk" font-size="9.85" fill="#000" textLength="10.2" lengthAdjust="spacingAndGlyphs">25</text>
<rect x="456" y="644" width="1" height="3" fill="#7a919c"/>
<text x="450.6" y="656" class="tk" font-size="9.85" fill="#000" textLength="10.2" lengthAdjust="spacingAndGlyphs">29</text>
<rect x="484" y="644" width="1" height="3" fill="#7a919c"/>
<text x="475.2" y="656" class="tk" font-size="9.85" fill="#000" textLength="17.0" lengthAdjust="spacingAndGlyphs">Nov</text>
<rect x="513" y="644" width="1" height="3" fill="#7a919c"/>
<text x="507.6" y="656" class="tk" font-size="9.85" fill="#000" textLength="10.2" lengthAdjust="spacingAndGlyphs">05</text>
<rect x="542" y="644" width="1" height="3" fill="#7a919c"/>
<text x="536.6" y="656" class="tk" font-size="9.85" fill="#000" textLength="10.2" lengthAdjust="spacingAndGlyphs">08</text>
<rect x="570" y="644" width="1" height="3" fill="#7a919c"/>
<text x="564.6" y="656" class="tk" font-size="9.85" fill="#000" textLength="10.2" lengthAdjust="spacingAndGlyphs">12</text>
<rect x="599" y="644" width="1" height="3" fill="#7a919c"/>
<text x="593.6" y="656" class="tk" font-size="9.85" fill="#000" textLength="10.2" lengthAdjust="spacingAndGlyphs">15</text>
<rect x="628" y="644" width="1" height="3" fill="#7a919c"/>
<text x="622.6" y="656" class="tk" font-size="9.85" fill="#000" textLength="10.2" lengthAdjust="spacingAndGlyphs">19</text>
<rect x="656" y="644" width="1" height="3" fill="#7a919c"/>
<text x="650.6" y="656" class="tk" font-size="9.85" fill="#000" textLength="10.2" lengthAdjust="spacingAndGlyphs">22</text>
<rect x="685" y="644" width="1" height="3" fill="#7a919c"/>
<text x="679.6" y="656" class="tk" font-size="9.85" fill="#000" textLength="10.2" lengthAdjust="spacingAndGlyphs">26</text>
<rect x="714" y="644" width="1" height="3" fill="#7a919c"/>
<text x="708.6" y="656" class="tk" font-size="9.85" fill="#000" textLength="10.2" lengthAdjust="spacingAndGlyphs">29</text>
<rect x="733" y="644" width="1" height="3" fill="#7a919c"/>
<text x="724.2" y="656" class="tk" font-size="9.85" fill="#000" textLength="17.0" lengthAdjust="spacingAndGlyphs">Dec</text>
<rect x="742" y="644" width="1" height="3" fill="#7a919c"/>
<rect x="771" y="644" width="1" height="3" fill="#7a919c"/>
<text x="765.6" y="656" class="tk" font-size="9.85" fill="#000" textLength="10.2" lengthAdjust="spacingAndGlyphs">06</text>
<rect x="799" y="644" width="1" height="3" fill="#7a919c"/>
<text x="793.6" y="656" class="tk" font-size="9.85" fill="#000" textLength="10.2" lengthAdjust="spacingAndGlyphs">10</text>
<rect x="828" y="644" width="1" height="3" fill="#7a919c"/>
<text x="822.6" y="656" class="tk" font-size="9.85" fill="#000" textLength="10.2" lengthAdjust="spacingAndGlyphs">13</text>
<rect x="857" y="644" width="1" height="3" fill="#7a919c"/>
<text x="851.6" y="656" class="tk" font-size="9.85" fill="#000" textLength="10.2" lengthAdjust="spacingAndGlyphs">17</text>
<rect x="885" y="644" width="1" height="3" fill="#7a919c"/>
<text x="879.6" y="656" class="tk" font-size="9.85" fill="#000" textLength="10.2" lengthAdjust="spacingAndGlyphs">20</text>
<rect x="914" y="644" width="1" height="3" fill="#7a919c"/>
<text x="908.6" y="656" class="tk" font-size="9.85" fill="#000" textLength="10.2" lengthAdjust="spacingAndGlyphs">25</text>
<rect x="933" y="644" width="1" height="3" fill="#7a919c"/>
<text x="927.6" y="656" class="tk" font-size="9.85" fill="#000" textLength="10.2" lengthAdjust="spacingAndGlyphs">27</text>
<rect x="962" y="644" width="1" height="3" fill="#7a919c"/>
<text x="949.7" y="656" class="tk" font-size="9.85" fill="#000" textLength="24.0" lengthAdjust="spacingAndGlyphs">2024</text>
<rect x="981" y="644" width="1" height="3" fill="#7a919c"/>
<text x="975.6" y="656" class="tk" font-size="9.85" fill="#000" textLength="10.2" lengthAdjust="spacingAndGlyphs">03</text>
<rect x="1010" y="644" width="1" height="3" fill="#7a919c"/>
<text x="1004.6" y="656" class="tk" font-size="9.85" fill="#000" textLength="10.2" lengthAdjust="spacingAndGlyphs">07</text>
<rect x="1038" y="644" width="1" height="3" fill="#7a919c"/>
<text x="1032.6" y="656" class="tk" font-size="9.85" fill="#000" textLength="10.2" lengthAdjust="spacingAndGlyphs">10</text>
<rect x="1067" y="644" width="1" height="3" fill="#7a919c"/>
<text x="1061.6" y="656" class="tk" font-size="9.85" fill="#000" textLength="10.2" lengthAdjust="spacingAndGlyphs">14</text>
<rect x="1096" y="644" width="1" height="3" fill="#7a919c"/>
<text x="1090.6" y="656" class="tk" font-size="9.85" fill="#000" textLength="10.2" lengthAdjust="spacingAndGlyphs">17</text>
<g opacity="0.62">
<polygon points="936.0,578.0 945.0,578.0 934.2,621.0 925.2,621.0" fill="#f4f4f4"/>
<polygon points="940.8,575.0 958.8,575.0 956.8,583.0 938.8,583.0" fill="#f4f4f4"/>
<polygon points="940.0,594.0 954.0,594.0 952.1,601.6 938.1,601.6" fill="#f4f4f4"/>
<polygon points="958.8,567.0 997.8,567.0 995.8,575.0 956.8,575.0" fill="#f4f4f4"/>
<polygon points="989.8,567.0 997.8,567.0 984.8,619.0 976.8,619.0" fill="#f4f4f4"/>
<polygon points="958.5,580.0 986.5,580.0 984.8,587.0 956.8,587.0" fill="#f4f4f4"/>
<polygon points="956.8,587.0 963.8,587.0 957.2,613.0 950.2,613.0" fill="#f4f4f4"/>
<polygon points="956.2,597.0 982.2,597.0 980.5,604.0 954.5,604.0" fill="#f4f4f4"/>
<polygon points="973.8,587.0 980.8,587.0 974.2,613.0 967.2,613.0" fill="#f4f4f4"/>
<polygon points="927.2,613.0 986.2,613.0 984.4,620.6 925.4,620.6" fill="#f4f4f4"/>
<polygon points="1001.5,568.0 1057.5,568.0 1055.6,575.5 999.6,575.5" fill="#f4f4f4"/>
<polygon points="1007.8,575.0 1014.8,575.0 1011.2,589.0 1004.2,589.0" fill="#f4f4f4"/>
<polygon points="997.0,590.0 1052.0,590.0 1050.0,597.8 995.0,597.8" fill="#f4f4f4"/>
<polygon points="990.2,605.0 1034.2,605.0 1032.5,612.2 988.5,612.2" fill="#f4f4f4"/>
<polygon points="1050.1,568.0 1057.5,568.0 1044.5,620.0 1037.1,620.0" fill="#f4f4f4"/>
<polygon points="1015.0,614.0 1046.0,614.0 1044.2,621.0 1013.2,621.0" fill="#f4f4f4"/>
<polygon points="1056.0,568.0 1063.5,568.0 1050.2,621.0 1042.8,621.0" fill="#f4f4f4"/>
<polygon points="1056.0,568.0 1091.5,568.0 1089.8,575.0 1054.2,575.0" fill="#f4f4f4"/>
<polygon points="1073.8,575.0 1079.8,575.0 1070.2,613.0 1064.2,613.0" fill="#f4f4f4"/>
<polygon points="1084.0,568.0 1091.5,568.0 1079.0,618.0 1071.5,618.0" fill="#f4f4f4"/>
<polygon points="1092.5,580.0 1120.5,580.0 1118.8,587.0 1090.8,587.0" fill="#f4f4f4"/>
<polygon points="1110.5,566.0 1118.0,566.0 1104.2,621.0 1096.8,621.0" fill="#f4f4f4"/>
<polygon points="1095.8,587.0 1102.8,587.0 1089.2,617.0 1082.2,617.0" fill="#f4f4f4"/>
<polygon points="1133.5,568.0 1141.5,568.0 1124.0,590.0 1116.0,590.0" fill="#f4f4f4"/>
<polygon points="1117.2,585.0 1135.2,585.0 1133.4,592.5 1115.4,592.5" fill="#f4f4f4"/>
<polygon points="1107.2,601.0 1131.2,601.0 1129.4,608.5 1105.4,608.5" fill="#f4f4f4"/>
<polygon points="1143.2,569.0 1185.2,569.0 1183.5,576.0 1141.5,576.0" fill="#f4f4f4"/>
<polygon points="1171.5,576.0 1179.5,576.0 1150.5,604.0 1142.5,604.0" fill="#f4f4f4"/>
<polygon points="1150.0,590.0 1158.0,590.0 1173.0,610.0 1165.0,610.0" fill="#f4f4f4"/>
<polygon points="1108.0,614.0 1162.0,614.0 1160.2,621.0 1106.2,621.0" fill="#f4f4f4"/>
<polygon points="1141.0,598.0 1148.0,598.0 1142.2,621.0 1135.2,621.0" fill="#f4f4f4"/>
<polygon points="1133.0,602.0 1163.0,602.0 1161.2,609.0 1131.2,609.0" fill="#f4f4f4"/>
</g>
<g filter="url(#wblur)" stroke="#5a5a5a" stroke-width="2.2" stroke-linecap="round" opacity="0.75">
<line x1="941.4" y1="582.8" x2="950" y2="582.8"/>
<line x1="950.3" y1="580" x2="942.6" y2="592"/>
<line x1="958.8" y1="586.5" x2="975" y2="586.5"/>
<line x1="958.8" y1="587" x2="956.3" y2="595.5"/>
<line x1="975" y1="587" x2="972.9" y2="595.5"/>
<line x1="937.5" y1="601.8" x2="943.5" y2="601.8"/>
<line x1="954.6" y1="603.7" x2="970.8" y2="603.7"/>
<line x1="954.6" y1="604.4" x2="951.2" y2="612.5"/>
<line x1="970.8" y1="604.4" x2="968.2" y2="612.5"/>
<line x1="989" y1="570.6" x2="977.3" y2="620.5"/>
<line x1="926.4" y1="621" x2="977.3" y2="621"/>
<line x1="938" y1="589.7" x2="926.4" y2="620.5"/>
<line x1="944" y1="613" x2="962" y2="613"/>
<line x1="999.8" y1="575.5" x2="1038.1" y2="575.5"/>
<line x1="1008.6" y1="571.8" x2="1003.7" y2="588.6"/>
<line x1="994.8" y1="597.8" x2="1032.2" y2="597.8"/>
<line x1="988.9" y1="612.2" x2="1028.3" y2="612.2"/>
<line x1="1050" y1="568" x2="1037.2" y2="620"/>
<line x1="1013.5" y1="621" x2="1037.2" y2="621"/>
<line x1="1030.3" y1="604.3" x2="1027.3" y2="611.2"/>
<line x1="1056.2" y1="568.1" x2="1043" y2="619.9"/>
<line x1="1061.3" y1="577.2" x2="1073.5" y2="577.2"/>
<line x1="1073.5" y1="577.2" x2="1064.3" y2="612.8"/>
<line x1="1084.6" y1="569.1" x2="1070.4" y2="618.8"/>
<line x1="1096.8" y1="582.3" x2="1082.6" y2="616.8"/>
<line x1="1110" y1="568.1" x2="1096.8" y2="620.9"/>
<line x1="1043" y1="621" x2="1070" y2="621"/>
<line x1="1117" y1="592.5" x2="1126" y2="592.5"/>
<line x1="1137.5" y1="569.8" x2="1121.6" y2="599.3"/>
<line x1="1142" y1="576" x2="1157" y2="576"/>
<line x1="1172.8" y1="568.6" x2="1148.9" y2="609.6"/>
<line x1="1109" y1="608.5" x2="1126" y2="608.5"/>
<line x1="1106.8" y1="621" x2="1159" y2="621"/>
</g>
<g font-family="Liberation Sans" font-weight="bold" font-style="italic" font-size="33">
<mask id="zmask" maskUnits="userSpaceOnUse" x="0" y="0" width="1173" height="660"><rect x="0" y="0" width="1173" height="660" fill="#fff"/>
<text transform="translate(939.53,654.5) scale(1.368,1)" fill="#000">z</text>
<text transform="translate(965.20,654.5) scale(1.200,1)" fill="#000">z</text>
<text transform="translate(993.00,654.5) scale(0.954,1)" fill="#000">r</text>
<text transform="translate(1013.44,654.5) scale(1.621,1)" fill="#000">t</text>
<text transform="translate(1038.80,654.5) scale(1.128,1)" fill="#000">0</text>
<text transform="translate(1070.79,654.5) scale(0.989,1)" fill="#000">1</text>
<text transform="translate(1091.90,654.5) scale(1.252,1)" fill="#000">.</text>
<text transform="translate(1113.65,654.5) scale(1.109,1)" fill="#000">c</text>
<text transform="translate(1138.20,654.5) scale(1.180,1)" fill="#000">n</text>
</mask><g mask="url(#zmask)">
<text transform="translate(941.33,656.1) scale(1.368,1)" fill="#7a8a92" opacity="0.8">z</text>
<text transform="translate(967.00,656.1) scale(1.200,1)" fill="#7a8a92" opacity="0.8">z</text>
<text transform="translate(994.80,656.1) scale(0.954,1)" fill="#7a8a92" opacity="0.8">r</text>
<text transform="translate(1015.24,656.1) scale(1.621,1)" fill="#7a8a92" opacity="0.8">t</text>
<text transform="translate(1040.60,656.1) scale(1.128,1)" fill="#7a8a92" opacity="0.8">0</text>
<text transform="translate(1072.59,656.1) scale(0.989,1)" fill="#7a8a92" opacity="0.8">1</text>
<text transform="translate(1093.70,656.1) scale(1.252,1)" fill="#7a8a92" opacity="0.8">.</text>
<text transform="translate(1115.45,656.1) scale(1.109,1)" fill="#7a8a92" opacity="0.8">c</text>
<text transform="translate(1140.00,656.1) scale(1.180,1)" fill="#7a8a92" opacity="0.8">n</text>
</g>
<text transform="translate(939.53,654.5) scale(1.368,1)" fill="#3eb1c8" fill-opacity="0.75">z</text>
<text transform="translate(965.20,654.5) scale(1.200,1)" fill="#3eb1c8" fill-opacity="0.75">z</text>
<text transform="translate(993.00,654.5) scale(0.954,1)" fill="#3eb1c8" fill-opacity="0.75">r</text>
<text transform="translate(1013.44,654.5) scale(1.621,1)" fill="#3eb1c8" fill-opacity="0.75">t</text>
<text transform="translate(1038.80,654.5) scale(1.128,1)" fill="#3eb1c8" fill-opacity="0.75">0</text>
<text transform="translate(1070.79,654.5) scale(0.989,1)" fill="#3eb1c8" fill-opacity="0.75">1</text>
<text transform="translate(1091.90,654.5) scale(1.252,1)" fill="#3eb1c8" fill-opacity="0.75">.</text>
<text transform="translate(1113.65,654.5) scale(1.109,1)" fill="#3eb1c8" fill-opacity="0.75">c</text>
<text transform="translate(1138.20,654.5) scale(1.180,1)" fill="#3eb1c8" fill-opacity="0.75">n</text>
</g>
</svg></body></html>
